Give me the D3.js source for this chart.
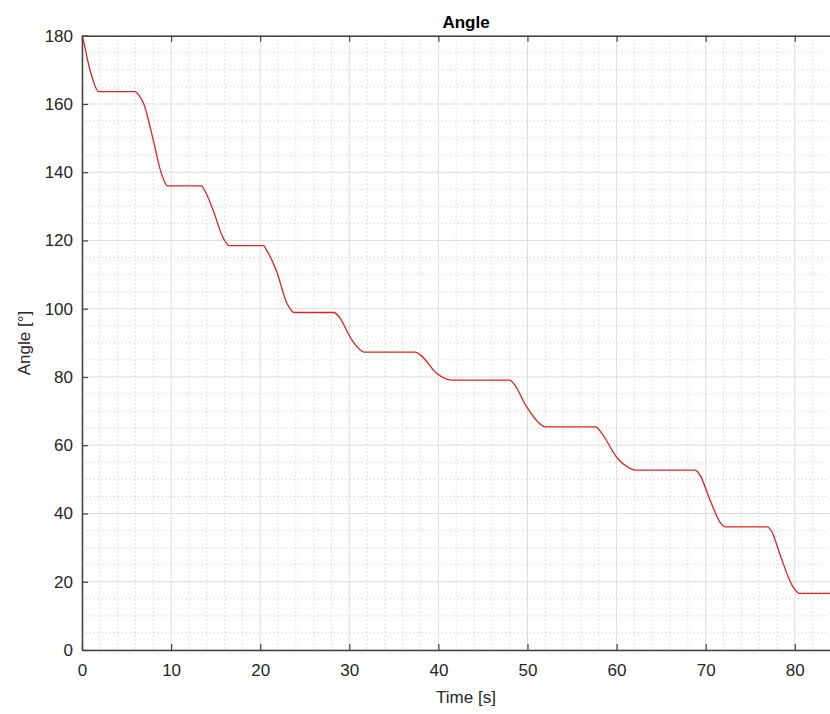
<!DOCTYPE html>
<html><head><meta charset="utf-8">
<script src="https://cdn.jsdelivr.net/npm/d3@7"></script>
<style>body{margin:0;background:#fff;} svg{display:block;font-family:"Liberation Sans",Arial,sans-serif;}</style>
</head><body>
<script>
const timeS = [0, 0.3, 0.7, 1.3, 1.85, 5.95, 6.4, 6.9, 8.0, 8.8, 9.3, 9.6, 13.4, 13.8, 14.7, 15.7, 16.2, 16.5, 20.35, 20.8, 21.8, 23.0, 23.5, 23.8, 28.3, 28.8, 30.3, 31.2, 31.7, 37.4, 38.0, 39.8, 40.8, 41.4, 48.0, 48.5, 49.9, 51.3, 52.0, 57.65, 58.2, 60.1, 61.3, 62.1, 68.8, 69.3, 70.5, 71.6, 72.2, 76.9, 77.4, 78.3, 79.8, 80.5, 86.2];
const angleDeg = [180, 177, 172, 166.5, 163.6, 163.6, 162.5, 160.2, 149.4, 140.6, 137, 136, 136, 134.5, 129, 121.6, 119.2, 118.5, 118.5, 116.8, 111.3, 101.6, 99.5, 98.9, 98.9, 97.8, 90.8, 88, 87.3, 87.3, 86.4, 81.1, 79.5, 79.1, 79.1, 77.9, 71.3, 66.5, 65.4, 65.4, 64, 56.2, 53.5, 52.7, 52.7, 51.5, 43.9, 37.5, 36.1, 36.1, 34.8, 28.3, 18.5, 16.6, 16.6];
const xTicks = [0, 10, 20, 30, 40, 50, 60, 70, 80];
const yTicks = [0, 20, 40, 60, 80, 100, 120, 140, 160, 180];
const xDomain = [0, 86.2];
const yDomain = [0, 180];
const titleText = "Angle", xLabel = "Time [s]", yLabel = "Angle [°]";

const W = 830, H = 714;
const L = 82, T = 35.7, B = 650, R = 850;
const svg = d3.select("body").append("svg").attr("width", W).attr("height", H);
const x = d3.scaleLinear().domain(xDomain).range([L, R]);
const y = d3.scaleLinear().domain(yDomain).range([B, T]);

const g = svg.append("g");
// minor grid
const xMinor = d3.range(0, 87, 2).filter(v => v % 10 !== 0);
const yMinor = d3.range(0, 181, 5).filter(v => v % 20 !== 0);
g.selectAll(".xm").data(xMinor).join("line")
  .attr("x1", d => x(d)).attr("x2", d => x(d)).attr("y1", T).attr("y2", B)
  .attr("stroke", "#c4c4c4").attr("stroke-width", 0.9).attr("stroke-dasharray", "1,3");
g.selectAll(".ym").data(yMinor).join("line")
  .attr("x1", L).attr("x2", R).attr("y1", d => y(d)).attr("y2", d => y(d))
  .attr("stroke", "#c4c4c4").attr("stroke-width", 0.9).attr("stroke-dasharray", "1,3");
// major grid
g.selectAll(".xg").data(xTicks).join("line")
  .attr("x1", d => x(d)).attr("x2", d => x(d)).attr("y1", T).attr("y2", B)
  .attr("stroke", "#dedede").attr("stroke-width", 1);
g.selectAll(".yg").data(yTicks).join("line")
  .attr("x1", L).attr("x2", R).attr("y1", d => y(d)).attr("y2", d => y(d))
  .attr("stroke", "#dedede").attr("stroke-width", 1);

// data line
const line = d3.line().x((d, i) => x(timeS[i])).y(d => y(d)).curve(d3.curveMonotoneX);
svg.append("path").datum(angleDeg).attr("d", line)
  .attr("fill", "none").attr("stroke", "#e3231f").attr("stroke-width", 1.3);

// axes
const axCol = "#404040";
const xAxis = d3.axisBottom(x).tickValues(xTicks).tickSizeInner(-6).tickSizeOuter(0).tickPadding(14);
const yAxis = d3.axisLeft(y).tickValues(yTicks).tickSizeInner(-6).tickSizeOuter(0).tickPadding(9);
const gx = svg.append("g").attr("transform", `translate(0,${B})`).call(xAxis);
const gy = svg.append("g").attr("transform", `translate(${L},0)`).call(yAxis);
const gxt = svg.append("g").attr("transform", `translate(0,${T})`).call(d3.axisTop(x).tickValues(xTicks).tickSizeInner(-6).tickSizeOuter(0).tickFormat(""));
[gx, gy, gxt].forEach(a => {
  a.select(".domain").attr("stroke", axCol).attr("stroke-width", 1.5);
  a.selectAll(".tick line").attr("stroke", axCol).attr("stroke-width", 1.2);
  a.selectAll("text").attr("fill", "#262626").style("font-size", "17px").style("font-family", '"Liberation Sans",Arial,sans-serif');
});
gx.selectAll(".tick text").attr("dy", "0.71em");

svg.append("text").attr("x", 466).attr("y", 28).attr("text-anchor", "middle")
  .style("font-size", "17px").style("font-weight", "bold").attr("fill", "#000").text(titleText);
svg.append("text").attr("x", 466).attr("y", 703).attr("text-anchor", "middle")
  .style("font-size", "17px").attr("fill", "#262626").text(xLabel);
svg.append("text").attr("transform", "translate(30,343) rotate(-90)").attr("text-anchor", "middle")
  .style("font-size", "17px").attr("fill", "#262626").text(yLabel);
</script>
</body></html>
